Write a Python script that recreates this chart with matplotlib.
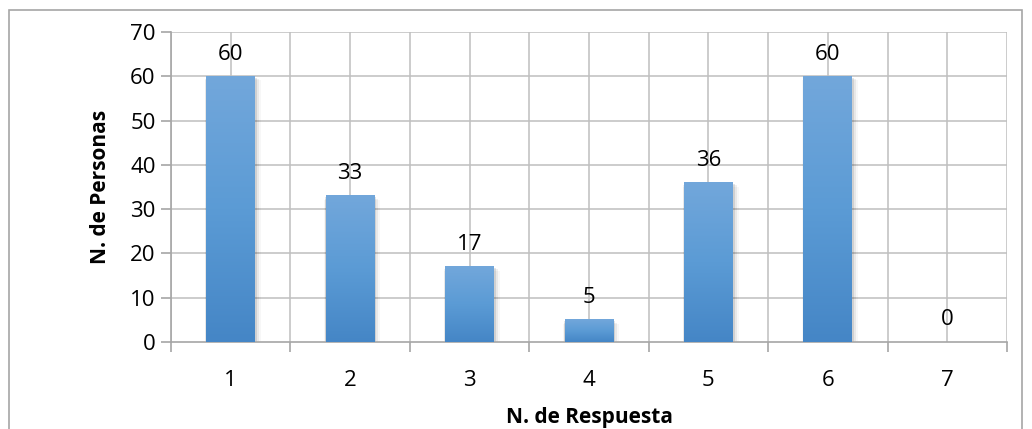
import numpy as np
import matplotlib.pyplot as plt
from matplotlib.colors import LinearSegmentedColormap
from matplotlib.patches import Rectangle

respuestas = ['1', '2', '3', '4', '5', '6', '7']
personas = [60, 33, 17, 5, 36, 60, 0]

plt.rcParams['font.family'] = ['Open Sans', 'DejaVu Sans']

fig = plt.figure(figsize=(10.32, 4.29), dpi=100)
fig.patches.append(Rectangle((9 / 1032, -0.1), 1013 / 1032, 1.1 - 10 / 429,
                             transform=fig.transFigure, fill=False,
                             edgecolor='#a6a6a6', linewidth=1.2))
ax = fig.add_axes([171 / 1032, 87 / 429, 836 / 1032, 310 / 429])

x = np.arange(len(respuestas))
width = 0.41
grad = LinearSegmentedColormap.from_list('azul', ['#4586c6', '#5b9bd5', '#72a7db'])

for xi, v in zip(x, personas):
    if v > 0:
        # soft shadow around the bar
        for k, a in enumerate([0.10, 0.06, 0.03]):
            off = 0.012 * (k + 1)
            ax.add_patch(Rectangle((xi - width / 2 - off * 0.3, -0.3 * (k + 1)),
                                   width + off * 1.6, v, color='black', alpha=a,
                                   linewidth=0, zorder=2))
        ax.imshow(np.linspace(0, 1, 100).reshape(-1, 1), cmap=grad, aspect='auto',
                  extent=(xi - width / 2, xi + width / 2, 0, v), origin='lower',
                  zorder=3, interpolation='bicubic')
    ax.text(xi, v + 2.6, str(v), ha='center', va='bottom', fontsize=16, zorder=4)

ax.set_xlim(-0.5, len(respuestas) - 0.5)
ax.set_ylim(0, 70)
ax.set_yticks(range(0, 71, 10))
ax.set_xticks(x)
ax.set_xticklabels(respuestas)
ax.set_xticks(np.arange(-0.5, len(respuestas), 1), minor=True)
ax.tick_params(axis='x', which='major', length=0, labelsize=16, pad=20)
ax.tick_params(axis='x', which='minor', length=7, color='#a6a6a6', width=1.2)
ax.tick_params(axis='y', length=7, color='#a6a6a6', width=1.2, labelsize=16, pad=4)

for g in np.arange(-0.5, len(respuestas), 0.5):
    ax.axvline(g, color='#bfbfbf', linewidth=1.1, zorder=1)
for g in range(10, 71, 10):
    ax.axhline(g, color='#bfbfbf', linewidth=1.1, zorder=1)

for side in ['top', 'right']:
    ax.spines[side].set_visible(False)
for side in ['left', 'bottom']:
    ax.spines[side].set_color('#a6a6a6')
    ax.spines[side].set_linewidth(1.2)

ax.set_ylabel('N. de Personas', fontsize=15, fontweight='bold', labelpad=14)
ax.set_xlabel('N. de Respuesta', fontsize=15, fontweight='bold', labelpad=12)

fig.savefig('out.png', dpi=100)
